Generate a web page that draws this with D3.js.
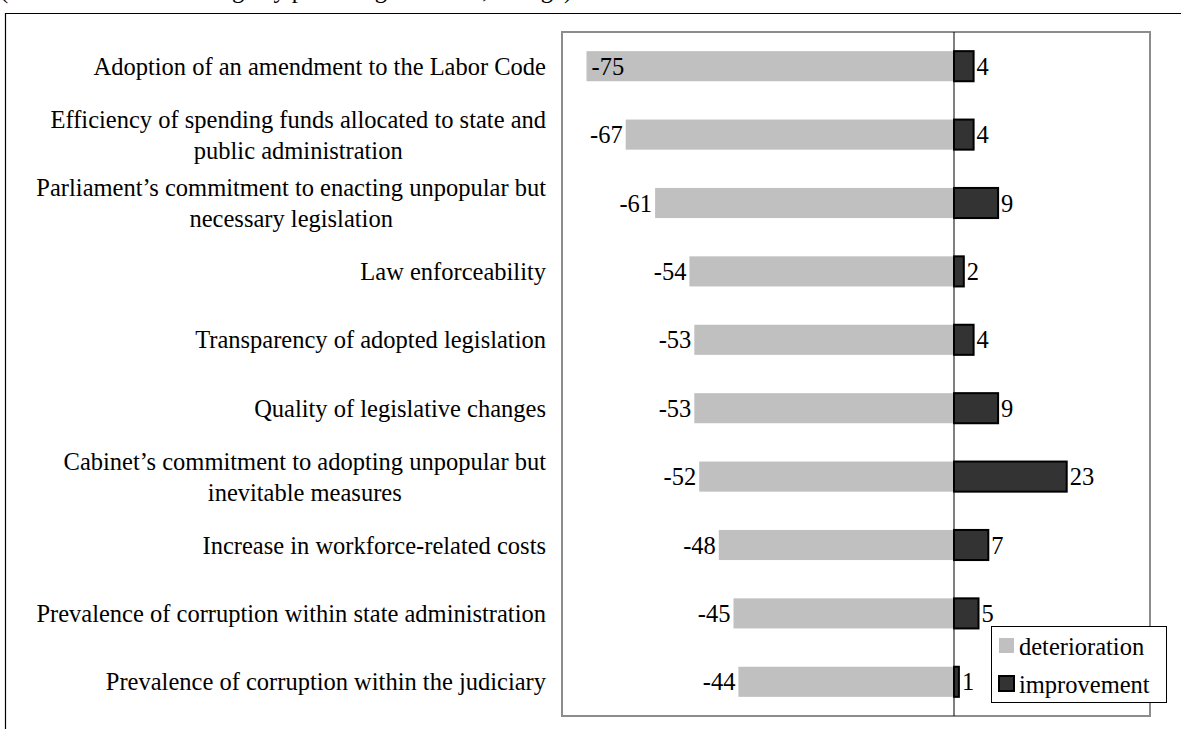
<!DOCTYPE html>
<html>
<head>
<meta charset="utf-8">
<script src="https://cdn.jsdelivr.net/npm/d3@7"></script>
<style>
  html, body { margin: 0; padding: 0; background: #fff; }
  svg { display: block; }
  text { font-family: "Times New Roman", "Liberation Serif", Times, serif; fill: #000; }
</style>
</head>
<body>
<svg id="chart" width="1181" height="729"></svg>
<script>
// Survey items (top to bottom)
const categories = [
  ["Adoption of an amendment to the Labor Code"],
  ["Efficiency of spending funds allocated to state and", "public administration"],
  ["Parliament\u2019s commitment to enacting unpopular but", "necessary legislation"],
  ["Law enforceability"],
  ["Transparency of adopted legislation"],
  ["Quality of legislative changes"],
  ["Cabinet\u2019s commitment to adopting unpopular but", "inevitable measures"],
  ["Increase in workforce-related costs"],
  ["Prevalence of corruption within state administration"],
  ["Prevalence of corruption within the judiciary"]
];
const deterioration = [-75, -67, -61, -54, -53, -53, -52, -48, -45, -44];
const improvement   = [4, 4, 9, 2, 4, 9, 23, 7, 5, 1];
const seriesNames = ["deterioration", "improvement"];
const xDomain = [-80, 40];

const FS = 24.5;
const svg = d3.select("#chart");
const plot = { left: 562, right: 1150, top: 32, bottom: 716 };

// outer frame (top and left edges visible)
svg.append("path")
  .attr("d", "M5.5,740 V13.5 H1190")
  .attr("fill", "none").attr("stroke", "#000").attr("stroke-width", 1.2);

// heading line sitting above the frame, mostly out of view
svg.append("text")
  .attr("x", 0).attr("y", -2)
  .attr("font-size", FS)
  .text("(net assessment of change by percentage of firms, change)");

const x = d3.scaleLinear().domain(xDomain).range([plot.left, plot.right]);
const y = d3.scaleBand().domain(d3.range(categories.length))
  .range([plot.top, plot.bottom]).paddingInner(0.56).paddingOuter(0.28);

// plot area border
svg.append("rect")
  .attr("x", plot.left).attr("y", plot.top)
  .attr("width", plot.right - plot.left).attr("height", plot.bottom - plot.top)
  .attr("fill", "#fff").attr("stroke", "#8c8c8c").attr("stroke-width", 2);

// deterioration bars
svg.append("g").selectAll("rect").data(deterioration).join("rect")
  .attr("x", d => x(d)).attr("y", (d, i) => y(i))
  .attr("width", d => x(0) - x(d)).attr("height", y.bandwidth())
  .attr("fill", "#c0c0c0");

// improvement bars
svg.append("g").selectAll("rect").data(improvement).join("rect")
  .attr("x", x(0)).attr("y", (d, i) => y(i))
  .attr("width", d => x(d) - x(0)).attr("height", y.bandwidth())
  .attr("fill", "#333333").attr("stroke", "#000").attr("stroke-width", 2);

// zero line
svg.append("line")
  .attr("x1", x(0)).attr("x2", x(0))
  .attr("y1", plot.top).attr("y2", plot.bottom)
  .attr("stroke", "#000").attr("stroke-width", 1);

// value labels, negative side
const negLabels = svg.append("g").selectAll("text").data(deterioration).join("text")
  .attr("font-size", FS)
  .attr("y", (d, i) => y(i) + y.bandwidth() / 2)
  .attr("dy", "0.35em")
  .text(d => d);
negLabels.each(function(d) {
  const w = this.getComputedTextLength();
  const outside = x(d) - 3;
  const t = d3.select(this);
  if (outside - w < plot.left + 2) {
    t.attr("x", x(d) + 5).attr("text-anchor", "start");
  } else {
    t.attr("x", outside).attr("text-anchor", "end");
  }
});

// value labels, positive side
svg.append("g").selectAll("text").data(improvement).join("text")
  .attr("font-size", FS)
  .attr("x", d => x(d) + 3)
  .attr("y", (d, i) => y(i) + y.bandwidth() / 2)
  .attr("dy", "0.35em")
  .text(d => d);

// category labels (wrapped lines centred within a right-aligned block)
const lineH = 31;
const labelRight = 546;
const catG = svg.append("g");
categories.forEach((lines, i) => {
  const cy = y(i) + y.bandwidth() / 2;
  const g = catG.append("g");
  const texts = lines.map((ln, k) => g.append("text")
    .attr("font-size", FS)
    .attr("y", cy + (k - (lines.length - 1) / 2) * lineH)
    .attr("dy", "0.35em")
    .text(ln));
  const widths = texts.map(t => t.node().getComputedTextLength());
  const maxW = d3.max(widths);
  const center = labelRight - maxW / 2;
  texts.forEach(t => t.attr("x", center).attr("text-anchor", "middle"));
});

// legend
const leg = svg.append("g");
leg.append("rect")
  .attr("x", 991.5).attr("y", 626.5).attr("width", 175).attr("height", 76)
  .attr("fill", "#fff").attr("stroke", "#000").attr("stroke-width", 1);
const swatch = [
  { fill: "#c0c0c0", stroke: "none" },
  { fill: "#333333", stroke: "#000" }
];
seriesNames.forEach((name, k) => {
  const yy = 646 + k * 38;
  leg.append("rect")
    .attr("x", 999).attr("y", yy - 8).attr("width", 15).attr("height", 15)
    .attr("fill", swatch[k].fill)
    .attr("stroke", swatch[k].stroke).attr("stroke-width", 2);
  leg.append("text")
    .attr("x", 1019).attr("y", yy).attr("dy", "0.35em")
    .attr("font-size", FS)
    .text(name);
});
</script>
</body>
</html>
